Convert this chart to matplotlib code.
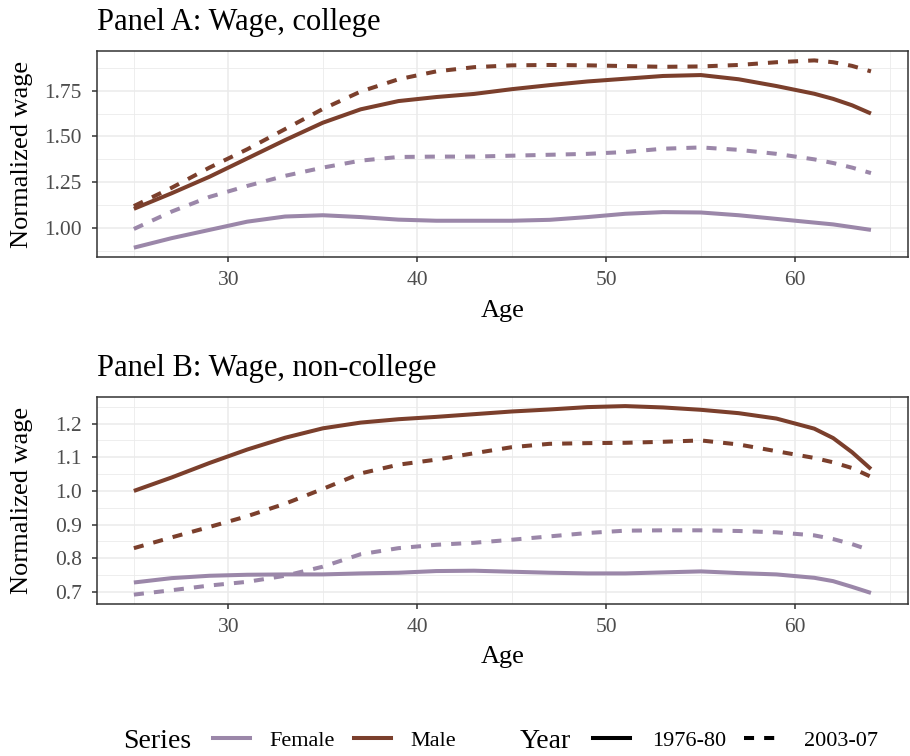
import numpy as np
import matplotlib
matplotlib.use("Agg")
import matplotlib.pyplot as plt
from matplotlib.lines import Line2D
from matplotlib.ticker import FixedLocator

plt.rcParams['font.family'] = ['Liberation Serif', 'DejaVu Serif']

# age grid and smoothed wage profiles
ages = [25, 27, 29, 31, 33, 35, 37, 39, 41, 43, 45, 47, 49, 51, 53, 55, 57, 59, 61, 62, 63, 64]

# Panel A: college
col_male_7680 = [1.105, 1.19, 1.28, 1.38, 1.48, 1.575, 1.648, 1.693, 1.715, 1.732, 1.758, 1.78,
                 1.80, 1.815, 1.83, 1.835, 1.812, 1.775, 1.733, 1.705, 1.67, 1.625]
col_male_0307 = [1.12, 1.22, 1.33, 1.43, 1.54, 1.65, 1.745, 1.812, 1.855, 1.878, 1.888, 1.89,
                 1.888, 1.884, 1.88, 1.882, 1.89, 1.905, 1.915, 1.905, 1.885, 1.855]
col_female_7680 = [0.893, 0.945, 0.99, 1.035, 1.063, 1.07, 1.06, 1.046, 1.04, 1.04, 1.04, 1.045,
                   1.06, 1.078, 1.087, 1.085, 1.07, 1.05, 1.03, 1.02, 1.005, 0.99]
col_female_0307 = [0.995, 1.09, 1.17, 1.23, 1.285, 1.33, 1.368, 1.388, 1.39, 1.39, 1.395, 1.40,
                   1.405, 1.415, 1.433, 1.44, 1.427, 1.405, 1.375, 1.355, 1.33, 1.30]

# Panel B: non-college
nc_male_7680 = [1.00, 1.04, 1.083, 1.123, 1.158, 1.186, 1.203, 1.213, 1.22, 1.228, 1.236, 1.242,
                1.249, 1.252, 1.248, 1.241, 1.231, 1.215, 1.185, 1.157, 1.115, 1.065]
nc_male_0307 = [0.83, 0.862, 0.893, 0.925, 0.962, 1.006, 1.052, 1.078, 1.093, 1.112, 1.13, 1.14,
                1.142, 1.143, 1.146, 1.15, 1.138, 1.118, 1.098, 1.085, 1.068, 1.042]
nc_female_7680 = [0.728, 0.741, 0.748, 0.751, 0.752, 0.752, 0.755, 0.757, 0.762, 0.763, 0.76, 0.757,
                  0.755, 0.755, 0.758, 0.761, 0.756, 0.752, 0.742, 0.732, 0.715, 0.697]
nc_female_0307 = [0.692, 0.705, 0.719, 0.73, 0.748, 0.775, 0.812, 0.83, 0.84, 0.846, 0.855, 0.865,
                  0.875, 0.882, 0.883, 0.883, 0.881, 0.877, 0.868, 0.857, 0.842, 0.823]

series_labels = ['Female', 'Male']
year_labels = ['1976-80', '2003-07']

x_ticks = [30, 40, 50, 60]
ticks_a = [1.00, 1.25, 1.50, 1.75]
ticks_b = [0.7, 0.8, 0.9, 1.0, 1.1, 1.2]

FEMALE = '#9B87A9'
MALE = '#7B3F2C'
LW = 2.9
DASH = (0, (2.5, 2.5))
GRID = '#EBEBEB'
DARK = '#333333'


def expand(vals, frac=0.05):
    lo, hi = min(vals), max(vals)
    pad = (hi - lo) * frac
    return lo - pad, hi + pad


def style_panel(ax, yticks, fmt, ydata):
    ax.set_xlim(*expand(ages))
    ax.set_ylim(*expand(ydata))
    ax.set_xticks(x_ticks)
    ax.set_yticks(yticks)
    ax.set_yticklabels([fmt.format(v) for v in yticks])
    xstep = x_ticks[1] - x_ticks[0]
    ystep = yticks[1] - yticks[0]
    ax.xaxis.set_minor_locator(FixedLocator(
        np.arange(x_ticks[0] - 1.5 * xstep, x_ticks[-1] + 1.5 * xstep, xstep)))
    ax.yaxis.set_minor_locator(FixedLocator(
        np.arange(yticks[0] - 1.5 * ystep, yticks[-1] + 1.5 * ystep, ystep)))
    ax.grid(which='major', color=GRID, lw=1.1, zorder=0)
    ax.grid(which='minor', color=GRID, lw=0.6, zorder=0)
    ax.set_axisbelow(True)
    ax.tick_params(which='major', length=3.5, width=1.1, color=DARK,
                   labelcolor='#4D4D4D', labelsize=15.5)
    ax.tick_params(axis='y', pad=7.5)
    ax.tick_params(axis='x', pad=6.5)
    ax.tick_params(which='minor', length=0)
    for s in ax.spines.values():
        s.set_color(DARK)
        s.set_linewidth(1.1)


fig = plt.figure(figsize=(9.1, 7.56), dpi=100)
ax_a = fig.add_axes([0.1066, 0.660, 0.891, 0.2725])
ax_b = fig.add_axes([0.1066, 0.201, 0.891, 0.2743])

panels = [
    (ax_a, 'Panel A: Wage, college',
     col_female_7680, col_female_0307, col_male_7680, col_male_0307, ticks_a, '{:.2f}'),
    (ax_b, 'Panel B: Wage, non-college',
     nc_female_7680, nc_female_0307, nc_male_7680, nc_male_0307, ticks_b, '{:.1f}'),
]

for ax, title, f76, f03, m76, m03, yt, fmt in panels:
    kw = dict(lw=LW, solid_joinstyle='round', dash_joinstyle='round', zorder=3)
    ax.plot(ages, f76, color=FEMALE, solid_capstyle='butt', **kw)
    ax.plot(ages, f03, color=FEMALE, ls=DASH, **kw)
    ax.plot(ages, m76, color=MALE, solid_capstyle='butt', **kw)
    ax.plot(ages, m03, color=MALE, ls=DASH, **kw)
    style_panel(ax, yt, fmt, f76 + f03 + m76 + m03)
    ax.set_title(title, loc='left', fontsize=22, pad=15)

# axis titles
for ax in (ax_a, ax_b):
    pos = ax.get_position()
    fig.text(22.5 / 910, (pos.y0 + pos.y1) / 2, 'Normalized wage', rotation=90,
             ha='center', va='center', fontsize=19)
fig.text(503 / 910, 1 - 311 / 756, 'Age', ha='center', va='center', fontsize=19)
fig.text(503 / 910, 1 - 657 / 756, 'Age', ha='center', va='center', fontsize=19)

# legends along the bottom
leg_y = 1 - 741 / 756
series_handles = [Line2D([], [], color=FEMALE, lw=LW), Line2D([], [], color=MALE, lw=LW)]
year_handles = [Line2D([], [], color='black', lw=LW),
                Line2D([], [], color='black', lw=LW, ls=DASH)]

fig.text(123 / 910, leg_y, 'Series', ha='left', va='center', fontsize=20)
leg1 = fig.legend(series_handles, series_labels, loc='center left',
                  bbox_to_anchor=(213 / 910, leg_y), ncol=2, frameon=False,
                  fontsize=16, handlelength=1.67, handletextpad=0.86,
                  columnspacing=0.86, borderpad=0, borderaxespad=0)
fig.text(520 / 910, leg_y, 'Year', ha='left', va='center', fontsize=20)
leg2 = fig.legend(year_handles, year_labels, loc='center left',
                  bbox_to_anchor=(593 / 910, leg_y), ncol=2, frameon=False,
                  fontsize=16, handlelength=1.67, handletextpad=1.0,
                  columnspacing=0.8, borderpad=0, borderaxespad=0)

fig.savefig('out.png', dpi=100)
